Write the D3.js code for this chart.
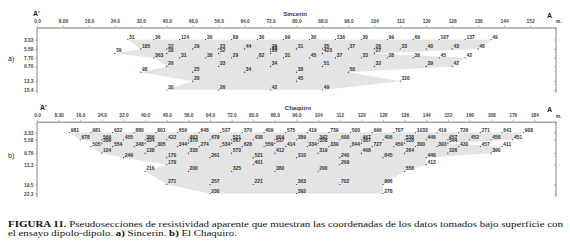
<!DOCTYPE html>
<html><head><meta charset="utf-8">
<script src="https://cdn.jsdelivr.net/npm/d3@7"></script>
<style>body{margin:0;background:#fff}svg{display:block}</style>
</head><body>
<script>
// ---------- Panel a: Sincerin ----------
const sinXTicks = [0,8,16,24,32,40,48,56,64,72,80,88,96,104,112,120,128,136,144,152];
const sinXTickLabels = ["0.0","8.00","16.0","24.0","32.0","40.0","48.0","56.0","64.0","72.0","80.0","88.0","96.0","104","112","120","128","136","144","152"];
const sinYTicks = [3.33,5.58,7.70,9.76,13.3,15.4];
const sinYTickLabels = ["3.33","5.58","7.70","9.76","13.3","15.4"];
const sinDepth = [3.33, 5.58, 6.66, 7.70, 9.76, 11.15, 13.3, 15.4];
const sinX = [
  [28,36,44,52,60,68,76,84,92,100,108,116,124,132,140],
  [32,40,48,56,64,72,80,88,96,104,112,120,128,136],
  [24,40,56,72,88,104],
  [36,44,52,60,68,76,84,92,100,108,116,124,132],
  [40,56,72,88,104,120,128],
  [32,48,64,80,96],
  [48,80,112],
  [40,56,72,88]
];
const sinVal = [
  [31,36,114,30,89,30,99,30,138,30,99,69,107,137,49],
  [185,32,29,33,44,26,31,35,37,26,33,40,43,48],
  [39,38,52,20,423,27],
  [363,31,30,29,82,31,45,37,33,28,36,45,42],
  [26,33,34,51,32,39,42],
  [98,25,34,38,50],
  [20,45,320],
  [30,26,42,49]
];
const sinExtraX = [72], sinExtraDepth = [6.12], sinExtraVal = [23];

// ---------- Panel b: El Chaquiro ----------
const chaXTicks = [0,8,16,24,32,40,48,56,64,72,80,88,96,104,112,120,128,136,144,152,160,168,176,184];
const chaXTickLabels = ["0.0","8.00","16.0","24.0","32.0","40.0","48.0","56.0","64.0","72.0","80.0","88.0","96.0","104","112","120","128","136","144","152","160","168","176","184"];
const chaYTicks = [3.33,5.58,9.76,13.3,19.5,22.3];
const chaYTickLabels = ["3.33","5.58","9.76","13.3","19.5","22.3"];
const chaDepth = [3.33, 5.58, 6.66, 7.70, 9.76, 11.15, 13.3, 15.4, 19.5, 22.3];
const chaX = [
  [12,20,28,36,44,52,60,68,76,84,92,100,108,116,124,132,140,148,156,164,172,180],
  [16,24,32,40,48,56,64,72,80,88,96,104,112,120,128,136,144,152,160,168,176],
  [24,40,56,72,88,104,120,136,152],
  [20,28,36,44,52,60,68,76,84,92,100,108,116,124,132,140,148,156,164,172],
  [24,40,56,72,88,104,120,136,152,168],
  [32,48,64,80,96,112,128,144],
  [48,80,112,144],
  [40,56,72,88,104,136],
  [48,64,80,96,112,128],
  [64,96,128]
];
const chaVal = [
  [981,981,632,880,801,659,648,537,370,409,575,419,739,500,696,707,1033,419,726,271,641,908],
  [678,566,455,386,422,463,679,521,438,604,389,342,600,467,406,538,446,457,452,458,451],
  [399,334,370,567,537,358,387,528,544],
  [505,554,348,305,344,274,534,628,559,414,334,339,844,727,450,300,393,430,457,411],
  [104,138,338,573,412,319,468,264,326,390],
  [249,170,261,521,310,240,845,446],
  [179,401,269,413],
  [216,200,325,380,290,558],
  [271,257,221,363,702,996],
  [230,392,278]
];

const W = 570, H = 241;
const svg = d3.select("body").append("svg").attr("width", W).attr("height", H)
  .style("font-family", "'Liberation Sans', Arial, sans-serif");

function panel(c) {
  const x = d3.scaleLinear().domain([0, c.xMax]).range([37, 556]);
  const y = d3.scaleLinear().domain(c.yDomain).range(c.yRange);
  const g = svg.append("g");

  // shaded coverage polygon from row extremes
  const rows = c.depth.map((d, i) => ({ d, xs: c.xs[i] }));
  const right = rows.map(r => [d3.max(r.xs), r.d]);
  const left = rows.map(r => [d3.min(r.xs), r.d]).reverse();
  const poly = right.concat(left);
  g.append("path")
    .attr("d", d3.line().x(p => x(p[0])).y(p => y(p[1]))(poly) + "Z")
    .attr("fill", "#e4e4e4").attr("stroke", "none");

  // top axis
  const top = g.append("g").attr("transform", `translate(0,${c.axisY})`)
    .call(d3.axisTop(x).tickValues(c.xTicks).tickFormat((d, i) => c.xLabels[i])
      .tickSize(2).tickSizeOuter(0).tickPadding(3));
  top.select(".domain").attr("stroke", "#777").attr("stroke-width", 1);
  top.selectAll(".tick line").attr("stroke", "#888").attr("stroke-width", 0.6);
  top.selectAll("text").attr("font-size", 4.8).attr("font-weight", "bold").attr("font-family", null).attr("fill", "#444");

  // left axis
  g.append("line").attr("x1", 37).attr("x2", 37).attr("y1", c.axisY).attr("y2", c.bottom)
    .attr("stroke", "#777").attr("stroke-width", 0.9);
  const la = g.append("g").attr("transform", "translate(37,0)")
    .call(d3.axisLeft(y).tickValues(c.yTicks).tickFormat((d, i) => c.yLabels[i])
      .tickSize(2).tickSizeOuter(0).tickPadding(1.6));
  la.select(".domain").remove();
  la.selectAll(".tick line").attr("stroke", "#888").attr("stroke-width", 0.6);
  la.selectAll("text").attr("font-size", 4.8).attr("font-weight", "bold").attr("font-family", null).attr("fill", "#444");

  // right axis
  g.append("line").attr("x1", 556).attr("x2", 556).attr("y1", c.axisY).attr("y2", c.bottom)
    .attr("stroke", "#777").attr("stroke-width", 0.9);
  const ra = g.append("g").attr("transform", "translate(556,0)")
    .call(d3.axisLeft(y).tickValues(c.yTicks).tickFormat("").tickSize(2).tickSizeOuter(0));
  ra.select(".domain").remove();
  ra.selectAll(".tick line").attr("stroke", "#888").attr("stroke-width", 0.6);

  // points
  const pts = [];
  c.depth.forEach((d, i) => c.xs[i].forEach((xv, j) => pts.push({ x: xv, d, v: c.vals[i][j] })));
  c.extraX.forEach((xv, j) => pts.push({ x: xv, d: c.extraD[j], v: c.extraV[j] }));
  g.selectAll("circle.pt").data(pts).join("circle").attr("class", "pt")
    .attr("cx", p => x(p.x)).attr("cy", p => y(p.d)).attr("r", 0.6).attr("fill", "#222");
  g.selectAll("text.lbl").data(pts).join("text").attr("class", "lbl")
    .attr("x", p => x(p.x) + 1.2).attr("y", p => y(p.d) - 1)
    .attr("font-size", 5).attr("font-weight", "bold").attr("fill", "#333").text(p => p.v);

  // titles
  g.append("text").attr("x", c.apX).attr("y", c.titleY).attr("font-size", 7).attr("font-weight", "bold")
    .attr("fill", "#222").text("A'");
  g.append("text").attr("x", c.titleX).attr("y", c.titleY).attr("font-size", 6).attr("text-anchor", "middle")
    .attr("font-weight", "bold").attr("fill", "#333").text(c.title);
  g.append("text").attr("x", 547).attr("y", c.aY).attr("font-size", 7).attr("font-weight", "bold")
    .attr("fill", "#222").text("A");
  g.append("text").attr("x", 556).attr("y", c.mY).attr("font-size", 4.5).attr("font-weight", "bold").attr("fill", "#333").text("m.");
  g.append("text").attr("x", 8).attr("y", c.panelY).attr("font-size", 7).attr("fill", "#222").text(c.panel);
}

panel({ xMax: 160, yDomain: [3.33, 15.4], yRange: [39.5, 90], axisY: 27.5, bottom: 93,
  xTicks: sinXTicks, xLabels: sinXTickLabels, yTicks: sinYTicks, yLabels: sinYTickLabels,
  depth: sinDepth, xs: sinX, vals: sinVal, extraX: sinExtraX, extraD: sinExtraDepth, extraV: sinExtraVal,
  title: "Sincerin", titleX: 295, titleY: 15.5, apX: 33, aY: 18, mY: 22.5, panel: "a)", panelY: 61 });

panel({ xMax: 192, yDomain: [3.33, 22.3], yRange: [132.5, 193.5], axisY: 121.7, bottom: 197,
  xTicks: chaXTicks, xLabels: chaXTickLabels, yTicks: chaYTicks, yLabels: chaYTickLabels,
  depth: chaDepth, xs: chaX, vals: chaVal, extraX: [], extraD: [], extraV: [],
  title: "Chaquiro", titleX: 298, titleY: 110, apX: 40, aY: 112, mY: 117.5, panel: "b)", panelY: 158 });

// caption
const cap = svg.append("g").attr("font-family", "'Liberation Serif', 'Times New Roman', serif")
  .attr("font-size", 8.6).attr("fill", "#111");
const l1 = cap.append("text").attr("x", 0).attr("y", 0);
l1.append("tspan").attr("font-weight", "bold").text("FIGURA 11.");
l1.append("tspan").text(" Pseudosecciones de resistividad aparente que muestran las coordenadas de los datos tomados bajo superficie con");
const l2 = cap.append("text").attr("x", 0).attr("y", 0);
l2.append("tspan").text("el ensayo dipolo-dipolo. ");
l2.append("tspan").attr("font-weight", "bold").text("a)");
l2.append("tspan").text(" Sincerin. ");
l2.append("tspan").attr("font-weight", "bold").text("b)");
l2.append("tspan").text(" El Chaquiro.");
const w2 = l2.node().getComputedTextLength();
const w1 = l1.node().getComputedTextLength();
l1.attr("transform", `translate(8,227) scale(${555 / w1},1)`);
l2.attr("transform", `translate(8,235.5) scale(${229 / w2},1)`);
</script>
</body></html>
